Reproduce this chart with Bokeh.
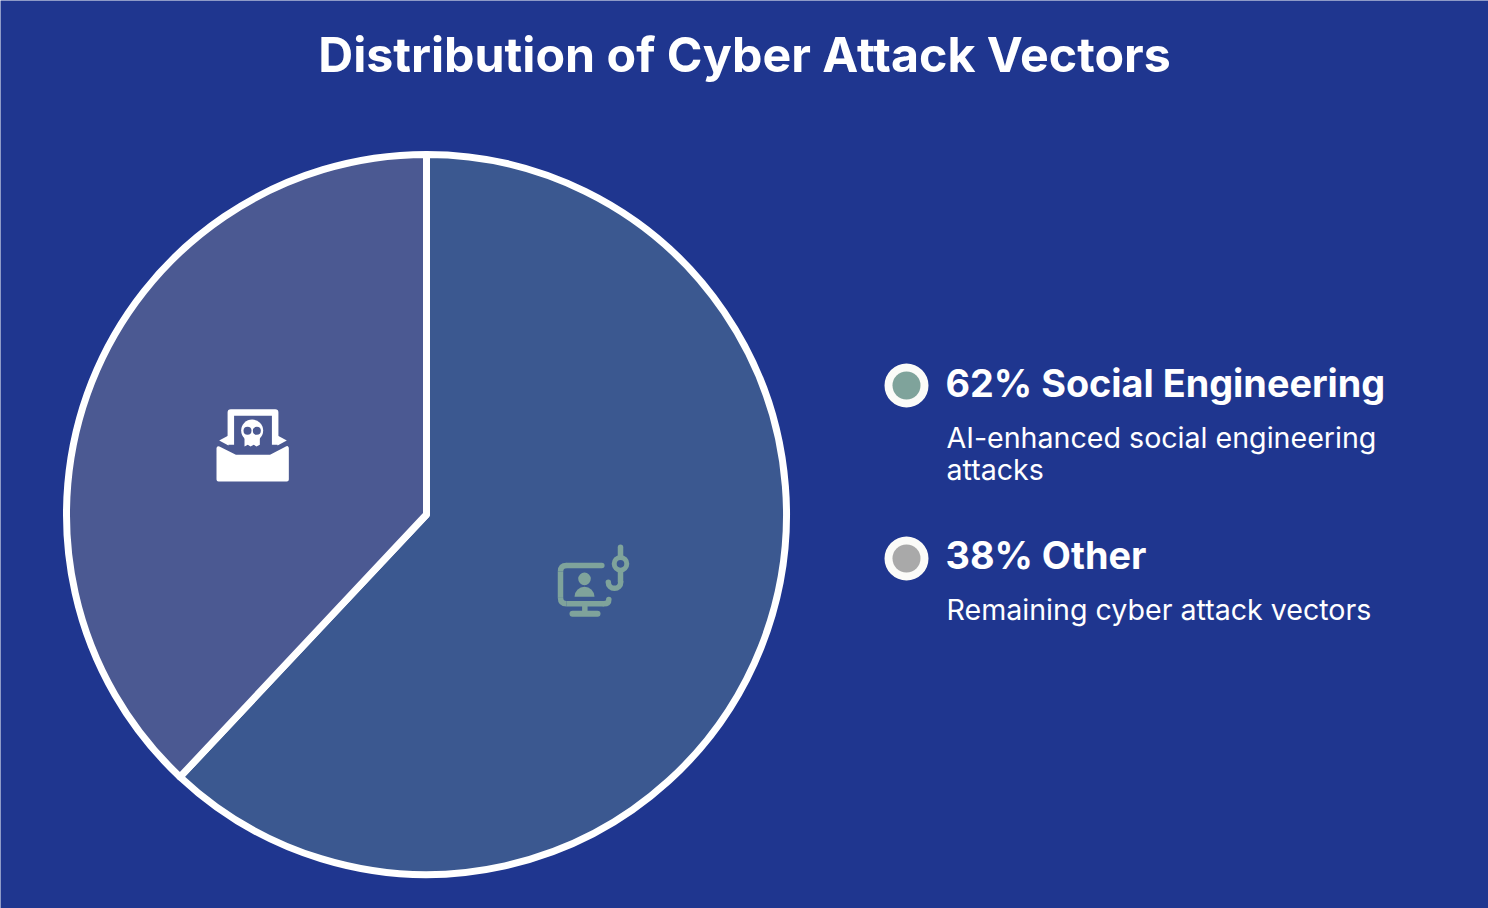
from math import pi

from bokeh.core.properties import value
from bokeh.embed import file_html
from bokeh.models import ColumnDataSource, Range1d
from bokeh.plotting import figure
from bokeh.resources import INLINE

TITLE = "Distribution of Cyber Attack Vectors"
SEGMENTS = ["Social Engineering", "Other"]
SHARES = [62, 38]
DESCRIPTIONS = [
    ["AI-enhanced social engineering", "attacks"],
    ["Remaining cyber attack vectors"],
]
SLICE_COLORS = ["#3b5890", "#4b5992"]
DOT_COLORS = ["#7fa39b", "#a9a9a9"]

BG = "#1f368f"
WHITE = "#ffffff"
FONT = "Inter"
GREEN = DOT_COLORS[0]


def Y(py):
    # page pixels run downwards, the y range runs upwards
    return 908 - py


p = figure(width=1488, height=908, output_backend="svg", toolbar_location=None,
           x_range=Range1d(0, 1488), y_range=Range1d(0, 908),
           x_axis_location=None, y_axis_location=None, min_border=0)
p.grid.visible = False
p.outline_line_color = None
p.background_fill_color = BG
p.border_fill_color = BG

# pie, clockwise from twelve o'clock
starts, ends = [], []
angle = pi / 2
for share in SHARES:
    starts.append(angle)
    angle -= share / sum(SHARES) * 2 * pi
    ends.append(angle)
source = ColumnDataSource(data=dict(segment=SEGMENTS, start=starts, end=ends, color=SLICE_COLORS))
p.wedge(x=426, y=Y(514), radius=360, start_angle="start", end_angle="end", direction="clock",
        fill_color="color", line_color=WHITE, line_width=7, line_join="round", source=source)

# title and legend
p.text([744], [Y(54)], text=[TITLE], text_font=value(FONT), text_font_style="bold",
       text_font_size="48.3px", text_color=WHITE, text_align="center", text_baseline="alphabetic")

DOT_Y = [385, 558]
HEAD_Y = [382, 554]
DESC_Y = [[437, 469], [609]]
for i, segment in enumerate(SEGMENTS):
    p.circle([906], [Y(DOT_Y[i])], radius=22, fill_color="#fbfbf8", line_color=None)
    p.circle([906], [Y(DOT_Y[i])], radius=14, fill_color=DOT_COLORS[i], line_color=None)
    p.text([945], [Y(HEAD_Y[i])], text=[f"{SHARES[i]}% {segment}"], text_font=value(FONT),
           text_font_style="bold", text_font_size="37.8px", text_color=WHITE, text_baseline="alphabetic")
    for line, py in zip(DESCRIPTIONS[i], DESC_Y[i]):
        p.text([946], [Y(py)], text=[line], text_font=value(FONT), text_font_size="28.6px",
               text_color=WHITE, text_baseline="alphabetic")


# mail icon with skull
def mx(v):
    return [200 + a / 3 for a in v]


def my(v):
    return [Y(395 + a / 3) for a in v]


p.patch(mx([54, 105, 210, 259, 259, 259, 54, 54]), my([158, 184, 184, 158, 245, 252, 252, 245]),
        fill_color=WHITE, line_color=WHITE, line_width=4, line_join="round")
p.patch(mx([56, 84, 84]), my([135, 120, 150]), fill_color=WHITE, line_color=None)
p.patch(mx([259, 231, 231]), my([135, 120, 150]), fill_color=WHITE, line_color=None)
p.line(mx([91, 91, 224, 224]), my([148, 51, 51, 148]), line_color=WHITE, line_width=6.5, line_join="round")
p.circle(mx([155]), my([105]), radius=11, fill_color=WHITE, line_color=None)
p.patch(mx([132, 178, 178, 168, 160, 150, 142, 132]), my([110, 110, 148, 153, 148, 153, 148, 153]),
        fill_color=WHITE, line_color=None)
p.circle(mx([141, 169]), my([106, 106]), radius=4, fill_color=SLICE_COLORS[1], line_color=None)


# monitor icon with hook
def hx(v):
    return [540 + a / 3 for a in v]


def hy(v):
    return [Y(535 + a / 3) for a in v]


p.line(hx([184, 78]), hy([90, 90]), line_color=GREEN, line_width=5.5, line_cap="round")
p.quadratic(hx([78]), hy([90]), hx([60]), hy([108]), hx([60]), hy([90]), line_color=GREEN, line_width=5.5)
p.line(hx([60, 60]), hy([108, 187]), line_color=GREEN, line_width=5.5)
p.quadratic(hx([60]), hy([187]), hx([78]), hy([205]), hx([60]), hy([205]), line_color=GREEN, line_width=5.5)
p.line(hx([78, 190]), hy([205, 205]), line_color=GREEN, line_width=5.5)
p.quadratic(hx([190]), hy([205]), hx([205]), hy([192]), hx([205]), hy([205]),
            line_color=GREEN, line_width=5.5, line_cap="round")
p.line(hx([133, 133]), hy([205, 235]), line_color=GREEN, line_width=5.5)
p.line(hx([96, 171]), hy([235, 235]), line_color=GREEN, line_width=6, line_cap="round")
p.circle(hx([132]), hy([130]), radius=6.3, fill_color=GREEN, line_color=None)
p.wedge(hx([132]), hy([184]), radius=10, start_angle=0, end_angle=pi, fill_color=GREEN, line_color=None)
p.line(hx([240, 240]), hy([35, 62]), line_color=GREEN, line_width=5.5, line_cap="round")
p.circle(hx([240]), hy([85]), radius=6.3, fill_color=None, line_color=GREEN, line_width=5)
p.line(hx([240, 240]), hy([105, 140]), line_color=GREEN, line_width=5.5)
p.arc(hx([222]), hy([140]), radius=6.2, start_angle=0, end_angle=pi, direction="clock",
      line_color=GREEN, line_width=5.5, line_cap="round")

open("out.html", "w").write(file_html(p, INLINE))
